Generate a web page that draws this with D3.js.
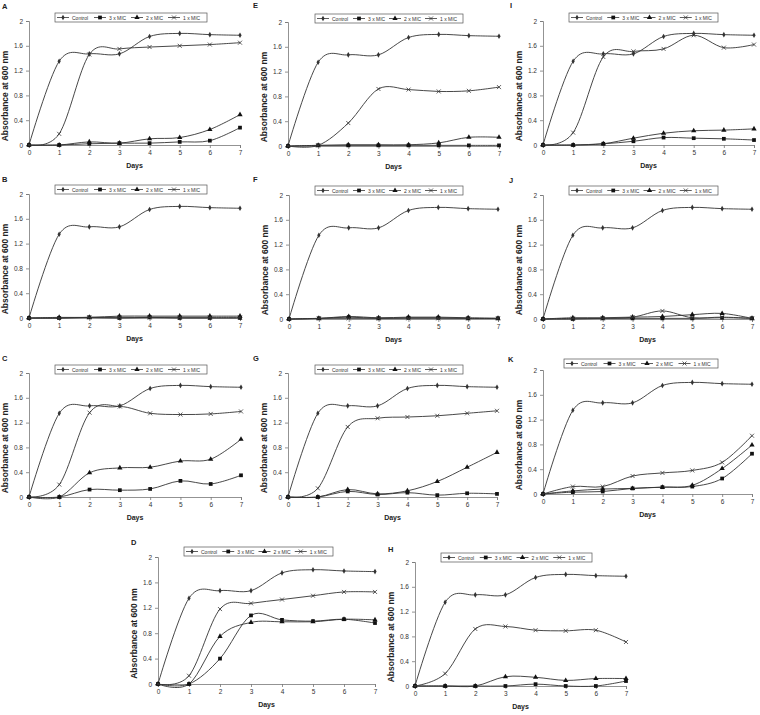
<!DOCTYPE html>
<html>
<head>
<meta charset="utf-8">
<script src="https://cdn.jsdelivr.net/npm/d3@7"></script>
<style>
  body { margin: 0; background: #fff; }
  svg { display: block; font-family: "Liberation Sans", Arial, sans-serif; }
</style>
</head>
<body>
<div id="chart"></div>
<script>
const DAYS = [0, 1, 2, 3, 4, 5, 6, 7];
const Y_TICKS = [0, 0.4, 0.8, 1.2, 1.6, 2];
const SERIES = ["Control", "3 x MIC", "2 x MIC", "1 x MIC"];

// control is the same in every panel
const CONTROL = [0, 1.35, 1.47, 1.47, 1.75, 1.80, 1.78, 1.77];

const A_3X = [0, 0, 0.02, 0.03, 0.03, 0.05, 0.07, 0.28];
const A_2X = [0, 0, 0.05, 0.03, 0.10, 0.12, 0.25, 0.49];
const A_1X = [0, 0.18, 1.46, 1.55, 1.58, 1.60, 1.62, 1.65];

const E_3X = [0, 0.01, 0.01, 0.01, 0.01, 0.01, 0.01, 0.01];
const E_2X = [0, 0.01, 0.02, 0.02, 0.02, 0.05, 0.14, 0.14];
const E_1X = [0, 0.01, 0.37, 0.92, 0.91, 0.88, 0.89, 0.95];

const I_3X = [0, 0, 0.02, 0.06, 0.12, 0.11, 0.10, 0.08];
const I_2X = [0, 0, 0.02, 0.11, 0.19, 0.23, 0.24, 0.26];
const I_1X = [0, 0.20, 1.42, 1.51, 1.55, 1.77, 1.57, 1.62];

const B_3X = [0, 0, 0.01, 0, 0.01, 0, 0, 0];
const B_2X = [0, 0.01, 0.01, 0.03, 0.03, 0.03, 0.03, 0.03];
const B_1X = [0, 0, 0.01, 0.01, 0.01, 0.01, 0.01, 0.01];

const F_3X = [0, 0.01, 0.03, 0.01, 0.02, 0.02, 0.01, 0.01];
const F_2X = [0, 0.01, 0.04, 0.02, 0.03, 0.03, 0.02, 0.01];
const F_1X = [0, 0.01, 0.01, 0.01, 0.01, 0.01, 0.01, 0.01];

const J_3X = [0, 0, 0.01, 0.01, 0.01, 0.01, 0.02, 0.01];
const J_2X = [0, 0.02, 0.02, 0.03, 0.04, 0.07, 0.09, 0.01];
const J_1X = [0, 0.01, 0.01, 0.03, 0.13, 0.02, 0.03, 0.01];

const C_3X = [0, 0, 0.12, 0.11, 0.13, 0.26, 0.21, 0.35];
const C_2X = [0, 0, 0.39, 0.47, 0.48, 0.58, 0.61, 0.93];
const C_1X = [0, 0.20, 1.36, 1.46, 1.35, 1.33, 1.34, 1.38];

const G_3X = [0, 0, 0.09, 0.04, 0.07, 0.03, 0.06, 0.05];
const G_2X = [0, 0, 0.12, 0.05, 0.10, 0.25, 0.48, 0.72];
const G_1X = [0, 0.14, 1.13, 1.27, 1.29, 1.31, 1.35, 1.39];

const K_3X = [0, 0.03, 0.04, 0.09, 0.11, 0.12, 0.25, 0.65];
const K_2X = [0, 0.05, 0.08, 0.09, 0.11, 0.14, 0.41, 0.79];
const K_1X = [0, 0.12, 0.12, 0.29, 0.34, 0.38, 0.51, 0.94];

const D_3X = [0, 0, 0.40, 1.08, 1.01, 0.99, 1.02, 0.96];
const D_2X = [0, 0, 0.75, 0.97, 0.98, 0.98, 1.02, 1.01];
const D_1X = [0, 0.13, 1.18, 1.27, 1.33, 1.39, 1.45, 1.45];

const H_3X = [0, 0, 0, 0, 0.03, 0, 0, 0.08];
const H_2X = [0, 0, 0, 0.15, 0.14, 0.09, 0.12, 0.12];
const H_1X = [0, 0.20, 0.92, 0.96, 0.90, 0.89, 0.90, 0.71];

// layout of each panel: ax/ax7 = x of day 0/7, yT/y0 = y of 2/0, legend box, panel letter
const PANELS = [
  { label: "A", s: [CONTROL, A_3X, A_2X, A_1X], ax: 29,  ax7: 240, yT: 21,  y0: 145, lx: 55,  lw: 152, ly: 13,  tx: 2,   ty: 9 },
  { label: "E", s: [CONTROL, E_3X, E_2X, E_1X], ax: 288, ax7: 499, yT: 22,  y0: 146, lx: 315, lw: 148, ly: 14,  tx: 253, ty: 8 },
  { label: "I", s: [CONTROL, I_3X, I_2X, I_1X], ax: 543, ax7: 754, yT: 21,  y0: 145, lx: 569, lw: 149, ly: 13,  tx: 510, ty: 8 },
  { label: "B", s: [CONTROL, B_3X, B_2X, B_1X], ax: 29,  ax7: 240, yT: 194, y0: 318, lx: 55,  lw: 152, ly: 185, tx: 2,   ty: 182 },
  { label: "F", s: [CONTROL, F_3X, F_2X, F_1X], ax: 289, ax7: 498, yT: 195, y0: 319, lx: 315, lw: 148, ly: 186, tx: 253, ty: 182 },
  { label: "J", s: [CONTROL, J_3X, J_2X, J_1X], ax: 543, ax7: 752, yT: 195, y0: 319, lx: 569, lw: 149, ly: 186, tx: 509, ty: 183 },
  { label: "C", s: [CONTROL, C_3X, C_2X, C_1X], ax: 29,  ax7: 241, yT: 373, y0: 497, lx: 55,  lw: 152, ly: 365, tx: 2,   ty: 361 },
  { label: "G", s: [CONTROL, G_3X, G_2X, G_1X], ax: 288, ax7: 497, yT: 373, y0: 497, lx: 315, lw: 148, ly: 365, tx: 253, ty: 361 },
  { label: "K", s: [CONTROL, K_3X, K_2X, K_1X], ax: 543, ax7: 752, yT: 370, y0: 494, lx: 564, lw: 154, ly: 359, tx: 508, ty: 362 },
  { label: "D", s: [CONTROL, D_3X, D_2X, D_1X], ax: 158, ax7: 375, yT: 557, y0: 684, lx: 184, lw: 149, ly: 547, tx: 131, ty: 545 },
  { label: "H", s: [CONTROL, H_3X, H_2X, H_1X], ax: 415, ax7: 626, yT: 562, y0: 686, lx: 441, lw: 151, ly: 553, tx: 388, ty: 552 },
];

const LINE_COLOR = "#333";
const AXIS_COLOR = "#777";

const crossSymbol = {
  draw(ctx, size) {
    const r = Math.sqrt(size) / 2;
    ctx.moveTo(-r, -r); ctx.lineTo(r, r);
    ctx.moveTo(-r, r); ctx.lineTo(r, -r);
  }
};
const MARKERS = [
  { type: d3.symbolDiamond, size: 9, fill: LINE_COLOR },
  { type: d3.symbolSquare, size: 14, fill: "#111" },
  { type: d3.symbolTriangle, size: 12, fill: "#111" },
  { type: crossSymbol, size: 16, fill: "none" },
];

const svg = d3.select("#chart").append("svg")
  .attr("width", 760)
  .attr("height", 715);

function drawPanel(p) {
  const x = d3.scaleLinear().domain([0, 7]).range([p.ax, p.ax7]);
  const y = d3.scaleLinear().domain([0, 2]).range([p.y0, p.yT]);
  const g = svg.append("g");

  const yAxis = g.append("g")
    .attr("transform", `translate(${p.ax},0)`)
    .call(d3.axisLeft(y).tickValues(Y_TICKS).tickSize(3).tickPadding(3).tickFormat(d => String(d)));
  const xAxis = g.append("g")
    .attr("transform", `translate(0,${p.y0})`)
    .call(d3.axisBottom(x).tickValues(DAYS).tickSize(3).tickPadding(2).tickFormat(d => String(d)));
  [xAxis, yAxis].forEach(a => {
    a.select(".domain").attr("stroke", AXIS_COLOR).attr("stroke-width", 0.8);
    a.selectAll(".tick line").attr("stroke", AXIS_COLOR).attr("stroke-width", 0.8);
    a.selectAll(".tick text").attr("fill", "#333").style("font-size", "6.5px");
  });

  g.append("text")
    .attr("transform", `translate(${p.ax - 24},${(p.yT + p.y0) / 2 + 13}) rotate(-90)`)
    .attr("text-anchor", "middle")
    .attr("dominant-baseline", "central")
    .style("font-size", "8.5px")
    .style("font-weight", "bold")
    .attr("fill", "#222")
    .text("Absorbance at 600 nm");

  g.append("text")
    .attr("x", (p.ax + p.ax7) / 2)
    .attr("y", p.y0 + 20)
    .attr("text-anchor", "middle")
    .attr("dominant-baseline", "central")
    .style("font-size", "7px")
    .style("font-weight", "bold")
    .attr("fill", "#222")
    .text("Days");

  g.append("text")
    .attr("x", p.tx)
    .attr("y", p.ty)
    .style("font-size", "7.5px")
    .style("font-weight", "bold")
    .attr("fill", "#222")
    .text(p.label);

  const line = d3.line()
    .x((d, i) => x(DAYS[i]))
    .y(d => y(d))
    .curve(d3.curveCatmullRom.alpha(0));

  p.s.forEach((vals, k) => {
    g.append("path")
      .attr("d", line(vals))
      .attr("fill", "none")
      .attr("stroke", LINE_COLOR)
      .attr("stroke-width", 0.9);
    const m = MARKERS[k];
    g.selectAll(null)
      .data(vals)
      .join("path")
      .attr("transform", (d, i) => `translate(${x(DAYS[i])},${y(d)})`)
      .attr("d", d3.symbol().type(m.type).size(m.size))
      .attr("fill", m.fill)
      .attr("stroke", m.fill === "none" ? LINE_COLOR : "none")
      .attr("stroke-width", 0.8);
  });

  // legend
  const lg = g.append("g").attr("transform", `translate(${p.lx},${p.ly})`);
  lg.append("rect")
    .attr("width", p.lw)
    .attr("height", 9)
    .attr("fill", "#fff")
    .attr("stroke", "#555")
    .attr("stroke-width", 0.7);
  const step = (p.lw - 4) / 4;
  SERIES.forEach((name, k) => {
    const ix = 2 + k * step;
    lg.append("line")
      .attr("x1", ix).attr("x2", ix + 12)
      .attr("y1", 4.5).attr("y2", 4.5)
      .attr("stroke", LINE_COLOR)
      .attr("stroke-width", 0.8);
    const m = MARKERS[k];
    lg.append("path")
      .attr("transform", `translate(${ix + 6},4.5)`)
      .attr("d", d3.symbol().type(m.type).size(m.size))
      .attr("fill", m.fill)
      .attr("stroke", m.fill === "none" ? LINE_COLOR : "none")
      .attr("stroke-width", 0.8);
    lg.append("text")
      .attr("x", ix + 15)
      .attr("y", 4.5)
      .attr("dominant-baseline", "central")
      .style("font-size", "5px")
      .attr("fill", "#333")
      .text(name);
  });
}

PANELS.forEach(drawPanel);
</script>
</body>
</html>
